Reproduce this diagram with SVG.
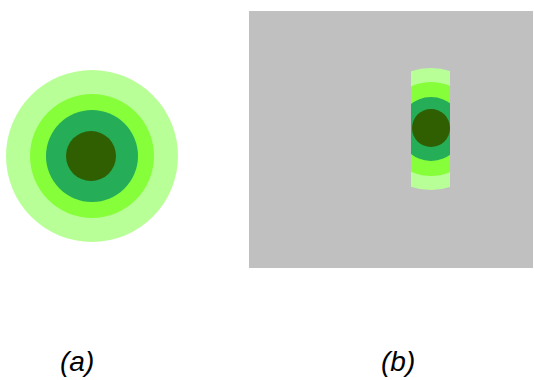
<svg xmlns="http://www.w3.org/2000/svg" width="534" height="380" viewBox="0 0 534 380">
<style>
.c1{fill:#b8ff98}.c2{fill:#86ff3a}.c3{fill:#25ad58}.c4{fill:#2f5f00}
.lbl{font-family:"Liberation Sans",Arial,sans-serif;font-size:28px;font-style:italic;fill:#000}
</style>
<defs>
<clipPath id="clipB"><rect x="411" y="60" width="39" height="140"/></clipPath>
</defs>
<rect width="534" height="380" fill="#fff"/>
<g id="a">
<circle class="c1" cx="92" cy="156" r="86"/>
<circle class="c2" cx="92" cy="156" r="62"/>
<circle class="c3" cx="92" cy="156" r="46"/>
<circle class="c4" cx="91" cy="156" r="25"/>
</g>
<g id="b">
<rect x="249" y="11" width="284" height="257" fill="#c0c0c0"/>
<g clip-path="url(#clipB)">
<circle class="c1" cx="431" cy="129" r="61"/>
<circle class="c2" cx="431" cy="129" r="47"/>
<circle class="c3" cx="431" cy="129" r="32"/>
<circle class="c4" cx="431" cy="128" r="19"/>
</g>
</g>
<text class="lbl" x="60" y="371">(a)</text>
<text class="lbl" x="381" y="371">(b)</text>
</svg>
